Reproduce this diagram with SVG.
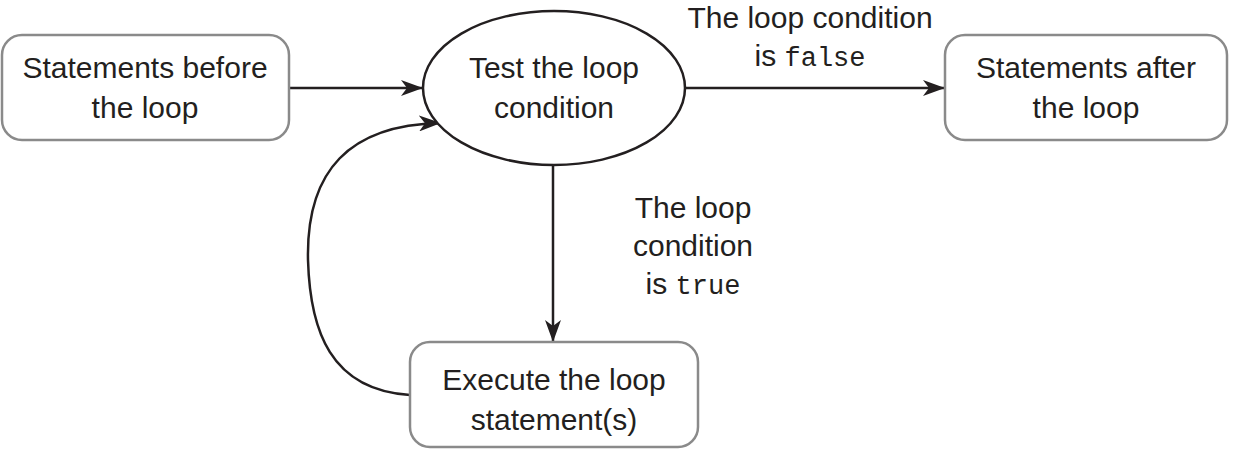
<svg xmlns="http://www.w3.org/2000/svg" width="1233" height="450" viewBox="0 0 1233 450">
<style>
.box{fill:#fff;stroke:#8a8a8a;stroke-width:2.5}
.ell{fill:#fff;stroke:#231f20;stroke-width:2.5}
.edge{fill:none;stroke:#231f20;stroke-width:2.5}
text{font-family:"Liberation Sans",Arial,sans-serif;font-size:30px;fill:#231f20;text-anchor:middle}
.mono{font-family:"Liberation Mono","DejaVu Sans Mono",monospace;font-size:27px}
</style>
<defs>
<marker id="arr" viewBox="0 0 22 16" refX="21" refY="8" markerWidth="22" markerHeight="16" markerUnits="userSpaceOnUse" orient="auto">
<path d="M0,0 L22,8 L0,16 L6,8 Z" fill="#231f20"/>
</marker>
</defs>
<g id="connectors">
<path class="edge" d="M289,88 L422,88" marker-end="url(#arr)"/>
<path class="edge" d="M685,88 L944,88" marker-end="url(#arr)"/>
<path class="edge" d="M553,165 L553,341" marker-end="url(#arr)"/>
<path class="edge" d="M410,395 C330,390 310,330 308,260 C306,170 350,125 440,123" marker-end="url(#arr)"/>
</g>
<g id="n1">
<rect class="box" x="2" y="35" width="287" height="105" rx="20"/>
<text x="145" y="78">Statements before</text>
<text x="145" y="118">the loop</text>
</g>
<g id="n2">
<ellipse class="ell" cx="554" cy="88" rx="131" ry="77"/>
<text x="554" y="78">Test the loop</text>
<text x="554" y="118">condition</text>
</g>
<g id="n3">
<rect class="box" x="945" y="35" width="282" height="105" rx="20"/>
<text x="1086" y="78">Statements after</text>
<text x="1086" y="118">the loop</text>
</g>
<g id="n4">
<rect class="box" x="410" y="342" width="288" height="105" rx="20"/>
<text x="554" y="390">Execute the loop</text>
<text x="554" y="430">statement(s)</text>
</g>
<g id="labels">
<text x="810" y="28">The loop condition</text>
<text x="810" y="66">is <tspan class="mono">false</tspan></text>
<text x="693" y="218">The loop</text>
<text x="693" y="256">condition</text>
<text x="693" y="294">is <tspan class="mono">true</tspan></text>
</g>
</svg>
